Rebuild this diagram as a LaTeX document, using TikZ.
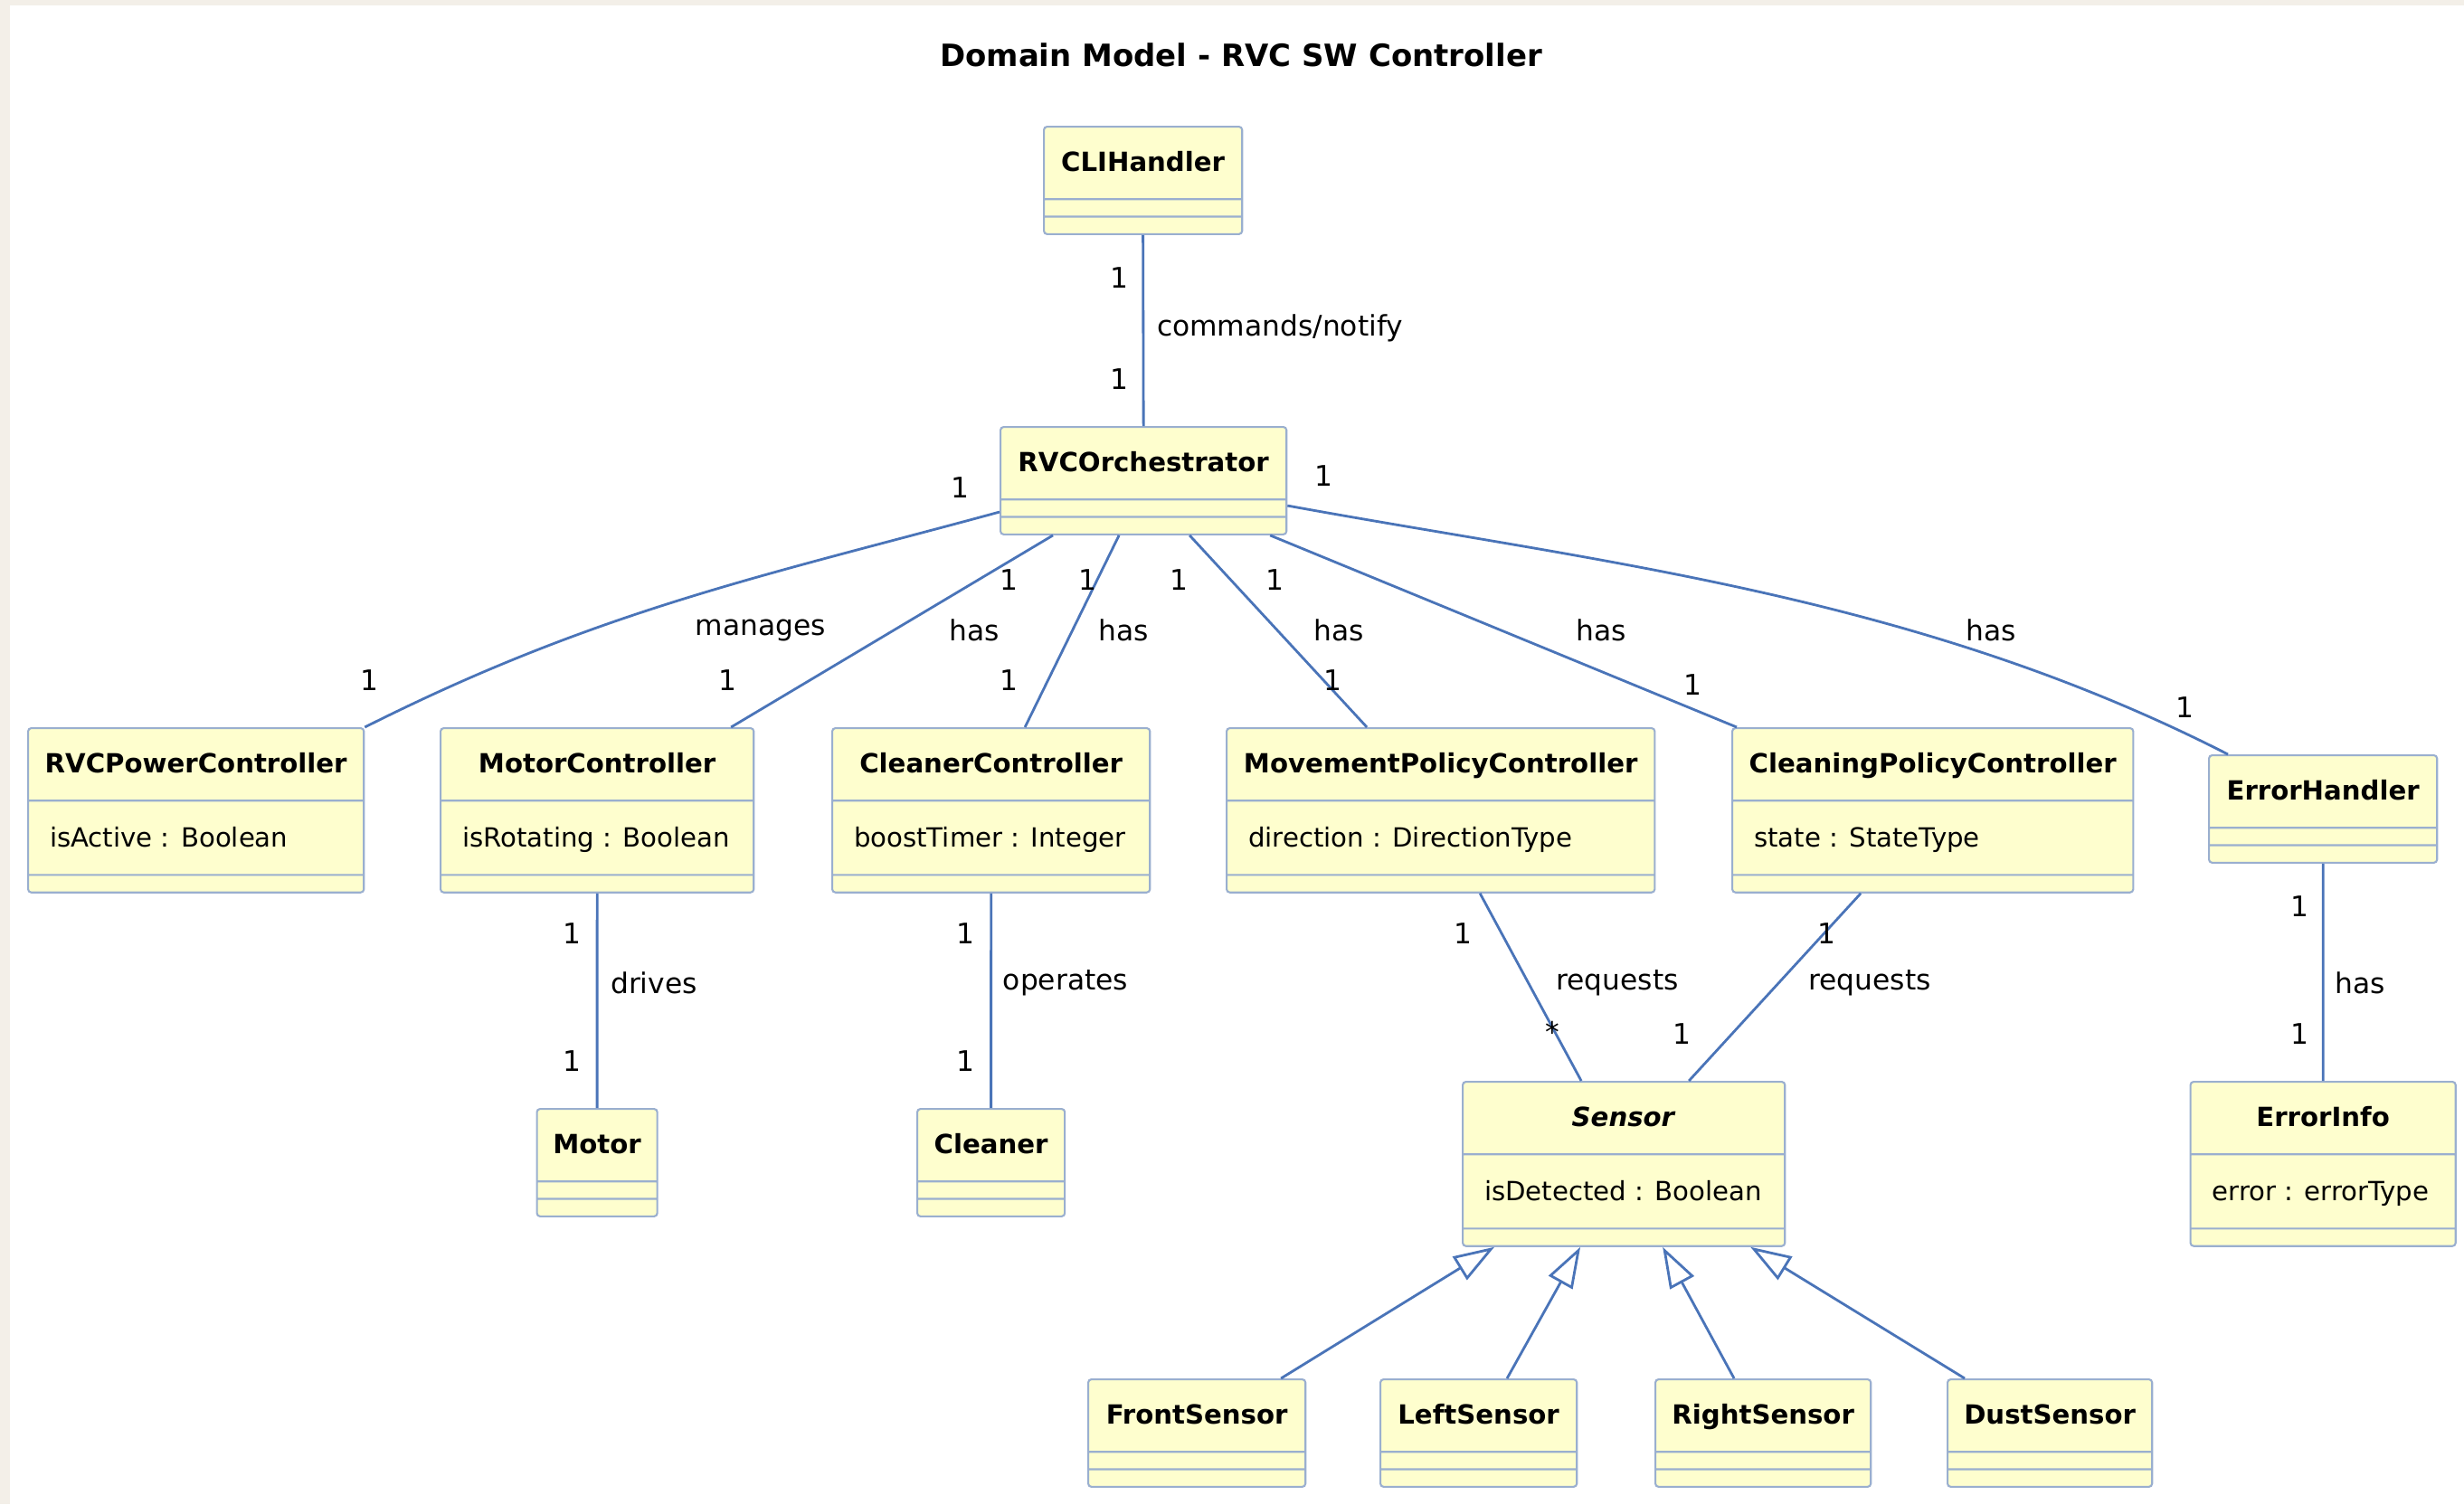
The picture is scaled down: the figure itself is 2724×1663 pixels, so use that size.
\documentclass[tikz,border=0pt]{standalone}
\usepackage{fontspec}
\setmainfont{DejaVu Sans}
\usetikzlibrary{shapes.multipart,arrows.meta}

\definecolor{boxfill}{HTML}{FEFECE}
\definecolor{boxline}{HTML}{9AAFCF}
\definecolor{edgeblue}{HTML}{4A74B8}
\definecolor{bgbeige}{HTML}{F3EFE8}

\newcommand{\clsfont}{\fontsize{8.3pt}{10pt}\selectfont}
\newcommand{\lblfont}{\fontsize{8.9pt}{10pt}\selectfont}
\newcommand{\ttlfont}{\fontsize{9.65pt}{12pt}\selectfont\bfseries}
% compartments of a class box
\newcommand{\ctitle}[1]{\rule[-0.297cm]{0pt}{0.78cm}\textbf{#1}}
\newcommand{\cattr}[1]{\rule[-0.3cm]{0pt}{0.80cm}\hspace{0.16cm}#1}
\newcommand{\cthin}{\rule{0pt}{0.172cm}}

\tikzset{
  umlclass/.style={rectangle split, rectangle split parts=3,
    rectangle split part align={center,left,left},
    draw=boxline, line width=0.6pt, fill=boxfill, rounded corners=1pt,
    inner xsep=0.08cm, inner ysep=0pt, anchor=north west, font=\clsfont},
  assoc/.style={draw=edgeblue, line width=0.8pt},
  isa/.style={assoc, -{Triangle[open, length=0.45cm, width=0.3cm]}},
  mult/.style={font=\lblfont, inner sep=0pt},
}

\begin{document}
\begin{tikzpicture}[x=0.01cm, y=-0.01cm]
\useasboundingbox (0,0) rectangle (2724,1663);
\fill[bgbeige] (0,0) rectangle (2724,6);
\fill[bgbeige] (0,0) rectangle (11,1663);

\node[font=\ttlfont] (TITLE) at (1372,61) {Domain Model - RVC SW Controller};

% classes
\node[umlclass, minimum width=2.19cm] (CLI) at (1153,139) {\ctitle{CLIHandler}\nodepart{second}\cthin\nodepart{third}\cthin};
\node[umlclass, minimum width=3.16cm] (ORCH) at (1105,471) {\ctitle{RVCOrchestrator}\nodepart{second}\cthin\nodepart{third}\cthin};
\node[umlclass, minimum width=3.71cm] (POWER) at (30,804) {\ctitle{RVCPowerController}\nodepart{second}\cattr{isActive : Boolean}\nodepart{third}\cthin};
\node[umlclass, minimum width=3.46cm] (MOTORC) at (486,804) {\ctitle{MotorController}\nodepart{second}\cattr{isRotating : Boolean}\nodepart{third}\cthin};
\node[umlclass, minimum width=3.51cm] (CLEANC) at (919,804) {\ctitle{CleanerController}\nodepart{second}\cattr{boostTimer : Integer}\nodepart{third}\cthin};
\node[umlclass, minimum width=4.73cm] (MOVE) at (1355,804) {\ctitle{MovementPolicyController}\nodepart{second}\cattr{direction : DirectionType}\nodepart{third}\cthin};
\node[umlclass, minimum width=4.43cm] (CLEANP) at (1914,804) {\ctitle{CleaningPolicyController}\nodepart{second}\cattr{state : StateType}\nodepart{third}\cthin};
\node[umlclass, minimum width=2.52cm] (ERRH) at (2441,834) {\ctitle{ErrorHandler}\nodepart{second}\cthin\nodepart{third}\cthin};
\node[umlclass, minimum width=1.33cm] (MOTOR) at (592.5,1225) {\ctitle{Motor}\nodepart{second}\cthin\nodepart{third}\cthin};
\node[umlclass, minimum width=1.63cm] (CLEANER) at (1013,1225) {\ctitle{Cleaner}\nodepart{second}\cthin\nodepart{third}\cthin};
\node[umlclass, minimum width=3.56cm] (SENSOR) at (1616,1195) {\ctitle{\textit{Sensor}}\nodepart{second}\cattr{isDetected : Boolean}\nodepart{third}\cthin};
\node[umlclass, minimum width=2.93cm] (ERRI) at (2420.5,1195) {\ctitle{ErrorInfo}\nodepart{second}\cattr{error : errorType}\nodepart{third}\cthin};
\node[umlclass, minimum width=2.40cm] (FRONT) at (1202,1524) {\ctitle{FrontSensor}\nodepart{second}\cthin\nodepart{third}\cthin};
\node[umlclass, minimum width=2.17cm] (LEFT) at (1525,1524) {\ctitle{LeftSensor}\nodepart{second}\cthin\nodepart{third}\cthin};
\node[umlclass, minimum width=2.38cm] (RIGHT) at (1829,1524) {\ctitle{RightSensor}\nodepart{second}\cthin\nodepart{third}\cthin};
\node[umlclass, minimum width=2.26cm] (DUST) at (2152,1524) {\ctitle{DustSensor}\nodepart{second}\cthin\nodepart{third}\cthin};

% associations
\draw[assoc] (CLI.south) -- (ORCH.north);
\draw[assoc] ([yshift=-0.95cm]ORCH.north west) .. controls (844,637) and (662,674) .. (POWER.north east);
\draw[assoc] ([xshift=0.59cm]ORCH.south west) -- ([xshift=3.22cm]MOTORC.north west);
\draw[assoc] ([xshift=1.32cm]ORCH.south west) -- ([xshift=2.14cm]CLEANC.north west);
\draw[assoc] ([xshift=2.10cm]ORCH.south west) -- ([xshift=1.56cm]MOVE.north west);
\draw[assoc] ([xshift=2.99cm]ORCH.south west) -- ([xshift=0.06cm]CLEANP.north west);
\draw[assoc] ([yshift=-0.88cm]ORCH.north east) .. controls (1768,622) and (2116,657) .. ([xshift=0.22cm]ERRH.north west);
\draw[assoc] (MOTORC.south) -- (MOTOR.north);
\draw[assoc] (CLEANC.south) -- (CLEANER.north);
\draw[assoc] ([xshift=2.81cm]MOVE.south west) -- ([xshift=1.32cm]SENSOR.north west);
\draw[assoc] ([xshift=1.43cm]CLEANP.south west) -- ([xshift=2.51cm]SENSOR.north west);
\draw[assoc] (ERRH.south) -- (ERRI.north);

% generalizations
\draw[isa] ([xshift=2.14cm]FRONT.north west) -- ([xshift=0.36cm]SENSOR.south west);
\draw[isa] ([xshift=1.41cm]LEFT.north west) -- ([xshift=1.31cm]SENSOR.south west);
\draw[isa] ([xshift=0.88cm]RIGHT.north west) -- ([xshift=2.22cm]SENSOR.south west);
\draw[isa] ([xshift=0.20cm]DUST.north west) -- ([xshift=3.19cm]SENSOR.south west);

% multiplicities
\foreach \x/\y/\t [count=\i] in {1237/307/1, 1237/419/1, 1061/539/1, 408/752/1,
    1115/641/1, 804/752/1, 1202/641/1, 1115/752/1, 1303/641/1, 1473/752/1,
    1409/641/1, 1871/757/1, 1463/526/1, 2415/782/1, 632/1032/1, 632/1173/1,
    1067/1032/1, 1067/1173/1, 1617/1032/1, 1716/1141/*, 2019/1032/1, 1859/1143/1,
    2542/1002/1, 2542/1143/1}
  \node[mult] (M\i) at (\x,\y) {\t};

% association names
\foreach \x/\y/\t [count=\i] in {1415/363/{commands/notify}, 841/697/manages,
    1077/697/has, 1242/697/has, 1480/697/has, 1770/697/has, 2201/697/has,
    723/1087/drives, 1178/1087/operates, 1788/1087/requests, 2067/1087/requests,
    2609/1087/has}
  \node[mult] (R\i) at (\x,\y) {\t};
\end{tikzpicture}
\end{document}
